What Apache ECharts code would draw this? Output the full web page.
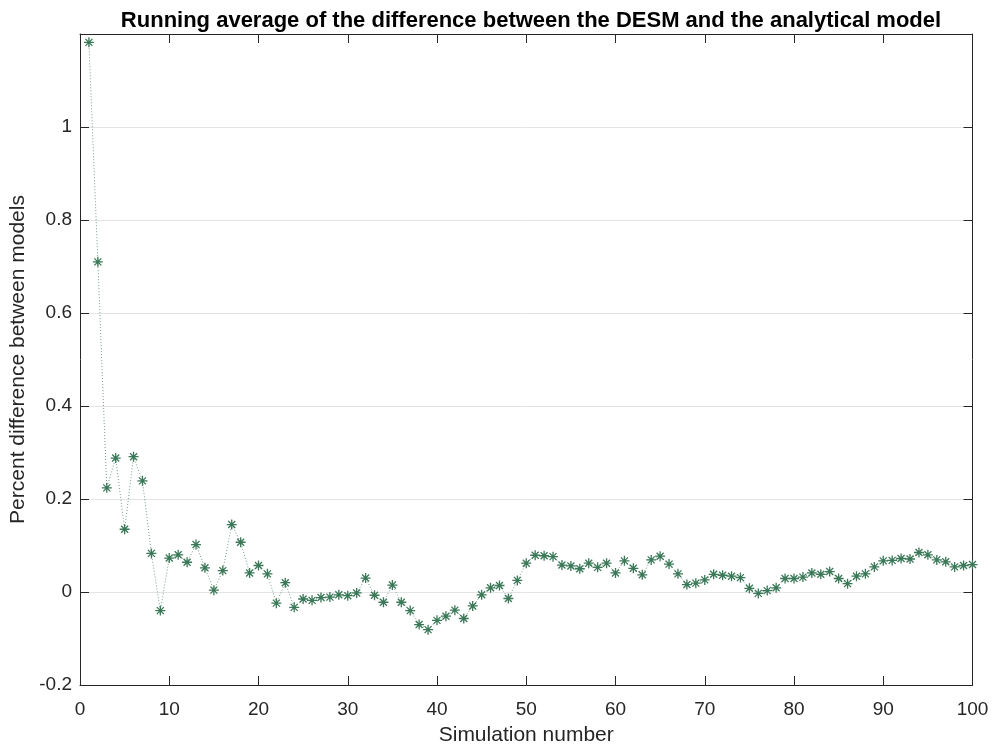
<!DOCTYPE html>
<html>
<head>
<meta charset="utf-8">
<script src="https://cdn.jsdelivr.net/npm/echarts@6/dist/echarts.min.js"></script>
<style>html,body{margin:0;padding:0;background:#fff}#c{width:992px;height:748px}</style>
</head>
<body>
<div id="c"></div>
<script>
const simulationNumbers = [1,2,3,4,5,6,7,8,9,10,11,12,13,14,15,16,17,18,19,20,21,22,23,24,25,26,27,28,29,30,31,32,33,34,35,36,37,38,39,40,41,42,43,44,45,46,47,48,49,50,51,52,53,54,55,56,57,58,59,60,61,62,63,64,65,66,67,68,69,70,71,72,73,74,75,76,77,78,79,80,81,82,83,84,85,86,87,88,89,90,91,92,93,94,95,96,97,98,99,100];
const percentDifference = [
  1.182, 0.710, 0.224, 0.288, 0.135, 0.291, 0.239, 0.083, -0.040, 0.073,
  0.080, 0.064, 0.102, 0.052, 0.004, 0.046, 0.145, 0.107, 0.041, 0.057,
  0.039, -0.024, 0.020, -0.033, -0.015, -0.018, -0.012, -0.011, -0.006, -0.008,
  -0.002, 0.030, -0.007, -0.022, 0.015, -0.022, -0.040, -0.070, -0.081, -0.061,
  -0.052, -0.039, -0.057, -0.030, -0.006, 0.009, 0.014, -0.014, 0.025, 0.062,
  0.079, 0.078, 0.076, 0.058, 0.056, 0.050, 0.062, 0.053, 0.062, 0.041,
  0.067, 0.051, 0.037, 0.069, 0.077, 0.060, 0.039, 0.016, 0.019, 0.026,
  0.038, 0.036, 0.034, 0.031, 0.008, -0.003, 0.003, 0.009, 0.029, 0.029,
  0.032, 0.041, 0.038, 0.044, 0.029, 0.018, 0.034, 0.039, 0.054, 0.067,
  0.068, 0.072, 0.071, 0.085, 0.080, 0.069, 0.065, 0.054, 0.057, 0.059
];
const xTicks = {min: 0, max: 100, interval: 10};
const yTicks = {min: -0.2, max: 1.2, interval: 0.2};
const titleText = 'Running average of the difference between the DESM and the analytical model';
const xName = 'Simulation number';
const yName = 'Percent difference between models';

const axisColor = '#262626';
const font = 'Liberation Sans, Arial, Helvetica, sans-serif';
const markColor = '#3a7858';

const chart = echarts.init(document.getElementById('c'), null, {renderer: 'canvas'});
const fmtY = v => Math.abs(v - 1.2) < 1e-9 ? '' : String(+v.toFixed(1));

const commonLine = {show: true, onZero: false, lineStyle: {color: axisColor, width: 1}};
const commonTick = {show: true, inside: true, length: 9, lineStyle: {color: axisColor, width: 1}};

chart.setOption({
  animation: false,
  backgroundColor: '#ffffff',
  title: {
    text: titleText,
    left: 526, top: 5, textAlign: 'center',
    textStyle: {fontFamily: font, fontSize: 22, fontWeight: 'bold', color: '#000'}
  },
  grid: {left: 80, right: 19.5, top: 34, bottom: 63, containLabel: false, outerBoundsMode: 'none'},
  xAxis: [
    {
      type: 'value', position: 'bottom', min: xTicks.min, max: xTicks.max, interval: xTicks.interval,
      name: xName, nameLocation: 'middle', nameGap: 40,
      nameTextStyle: {fontFamily: font, fontSize: 21, color: axisColor},
      axisLine: commonLine, axisTick: commonTick,
      axisLabel: {fontFamily: font, fontSize: 19, color: axisColor, margin: 15},
      splitLine: {show: false}
    },
    {
      type: 'value', position: 'top', min: xTicks.min, max: xTicks.max, interval: xTicks.interval,
      axisLine: commonLine, axisTick: commonTick, axisLabel: {show: false}, splitLine: {show: false}
    }
  ],
  yAxis: [
    {
      type: 'value', position: 'left', min: yTicks.min, max: yTicks.max, interval: yTicks.interval,
      name: yName, nameLocation: 'middle', nameGap: 48, nameRotate: 90,
      nameTextStyle: {fontFamily: font, fontSize: 21, color: axisColor},
      axisLine: commonLine, axisTick: commonTick,
      axisLabel: {fontFamily: font, fontSize: 19, color: axisColor, margin: 8, formatter: fmtY},
      splitLine: {show: true, lineStyle: {color: '#e3e3e3', width: 1}}
    },
    {
      type: 'value', position: 'right', min: yTicks.min, max: yTicks.max, interval: yTicks.interval,
      axisLine: commonLine, axisTick: commonTick, axisLabel: {show: false}, splitLine: {show: false}
    }
  ],
  series: [{
    type: 'line',
    xAxisIndex: 0, yAxisIndex: 0,
    data: simulationNumbers.map((x, i) => [x, percentDifference[i]]),
    symbol: 'path://M0,5L10,5M5,0L5,10M1.5,1.5L8.5,8.5M1.5,8.5L8.5,1.5',
    symbolSize: 10,
    symbolKeepAspect: true,
    showAllSymbol: true,
    lineStyle: {color: '#6f9f87', width: 1, type: [1, 2]},
    itemStyle: {color: 'rgba(0,0,0,0)', borderColor: markColor, borderWidth: 1.3},
    z: 3
  }]
});
</script>
</body>
</html>
